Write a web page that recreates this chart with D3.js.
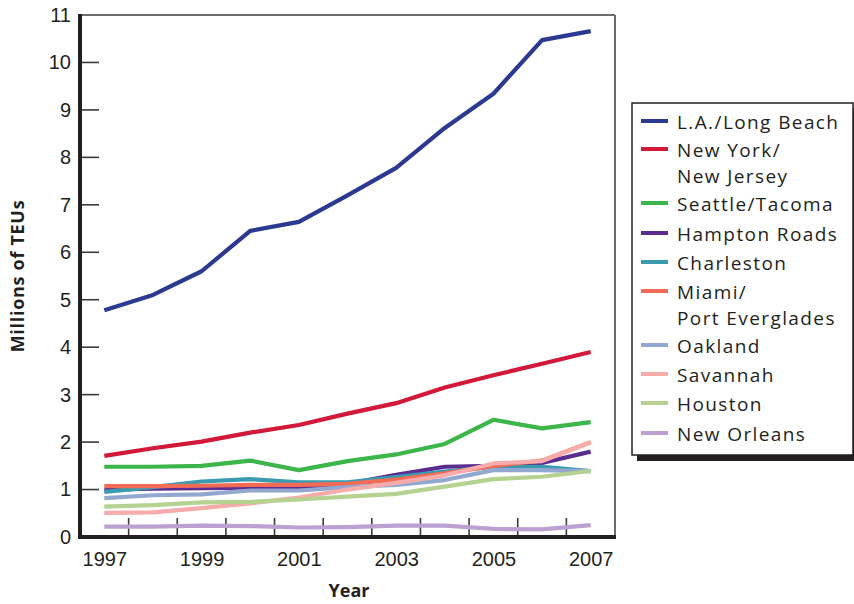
<!DOCTYPE html>
<html>
<head>
<meta charset="utf-8">
<script src="https://cdn.jsdelivr.net/npm/d3@7"></script>
<style>
  body { margin: 0; background: #fff; }
  svg { display: block; font-family: "Open Sans", "Noto Sans", sans-serif; }
</style>
</head>
<body>
<svg id="chart" width="854" height="604"></svg>
<script>
const years = [1997, 1998, 1999, 2000, 2001, 2002, 2003, 2004, 2005, 2006, 2007];
const xTickLabels = [1997, 1999, 2001, 2003, 2005, 2007];
const yTickValues = [0, 1, 2, 3, 4, 5, 6, 7, 8, 9, 10, 11];

const seriesNames = ["L.A./Long Beach", "New York/\nNew Jersey", "Seattle/Tacoma", "Hampton Roads",
  "Charleston", "Miami/\nPort Everglades", "Oakland", "Savannah", "Houston", "New Orleans"];
const seriesColors = ["#2b3990", "#d2193a", "#3cb54a", "#5b2d90", "#3a9bb0",
  "#f26b55", "#93a8d0", "#f7abab", "#b5d290", "#bca0d2"];

const laLongBeach   = [4.78, 5.10, 5.60, 6.45, 6.64, 7.20, 7.78, 8.62, 9.34, 10.47, 10.66];
const newYorkNJ     = [1.71, 1.87, 2.01, 2.20, 2.36, 2.60, 2.82, 3.15, 3.41, 3.65, 3.90];
const seattleTacoma = [1.48, 1.48, 1.50, 1.61, 1.41, 1.60, 1.74, 1.96, 2.47, 2.29, 2.42];
const hamptonRoads  = [1.00, 1.02, 1.03, 1.04, 1.05, 1.12, 1.31, 1.48, 1.50, 1.56, 1.80];
const charleston    = [0.95, 1.05, 1.17, 1.22, 1.15, 1.15, 1.26, 1.38, 1.48, 1.48, 1.39];
const miamiPE       = [1.07, 1.07, 1.08, 1.10, 1.10, 1.12, 1.21, 1.34, 1.50, 1.61, 2.00];
const oakland       = [0.82, 0.88, 0.90, 0.98, 0.98, 1.05, 1.10, 1.20, 1.41, 1.41, 1.39];
const savannah      = [0.51, 0.52, 0.61, 0.71, 0.83, 1.00, 1.14, 1.30, 1.55, 1.60, 1.99];
const houston       = [0.64, 0.67, 0.73, 0.74, 0.79, 0.85, 0.91, 1.06, 1.22, 1.27, 1.39];
const newOrleans    = [0.22, 0.22, 0.24, 0.23, 0.20, 0.21, 0.24, 0.24, 0.17, 0.16, 0.25];

const seriesValues = [laLongBeach, newYorkNJ, seattleTacoma, hamptonRoads, charleston,
  miamiPE, oakland, savannah, houston, newOrleans];

const svg = d3.select("#chart");
const pL = 80, pR = 615, pT = 15, pB = 537;

const x = d3.scaleLinear().domain([1996.5, 2007.5]).range([pL, pR]);
const y = d3.scaleLinear().domain([0, 11]).range([pB, pT]);

// frame top/right
svg.append("line").attr("x1", pL).attr("x2", pR).attr("y1", pT).attr("y2", pT)
  .attr("stroke", "#6d6d6d").attr("stroke-width", 2);
svg.append("line").attr("x1", pR).attr("x2", pR).attr("y1", pT).attr("y2", pB)
  .attr("stroke", "#6d6d6d").attr("stroke-width", 2);

// y axis labels
const yAxis = d3.axisLeft(y).tickValues(yTickValues).tickSize(0).tickPadding(9);
const gy = svg.append("g").attr("transform", `translate(${pL},0)`).call(yAxis);
gy.select(".domain").remove();
gy.selectAll("text").attr("font-size", 20).attr("fill", "#231f20");
svg.append("g").selectAll("line").data(yTickValues.filter(v => v > 0 && v < 11)).join("line")
  .attr("x1", pL).attr("x2", pL + 19)
  .attr("y1", d => y(d)).attr("y2", d => y(d))
  .attr("stroke", "#3a3a3a").attr("stroke-width", 1.6);

// x ticks at half years (inward)
const halfTicks = years.slice(0, -1).map(v => v + 0.5);
svg.append("g").selectAll("line").data(halfTicks).join("line")
  .attr("x1", d => x(d)).attr("x2", d => x(d))
  .attr("y1", pB).attr("y2", pB - 19)
  .attr("stroke", "#3a3a3a").attr("stroke-width", 1.6);

const xAxis = d3.axisBottom(x).tickValues(xTickLabels).tickFormat(d3.format("d")).tickSize(0).tickPadding(15);
const gx = svg.append("g").attr("transform", `translate(0,${pB})`).call(xAxis);
gx.select(".domain").remove();
gx.selectAll("text").attr("font-size", 20).attr("fill", "#231f20");

// lines
const line = d3.line().x((d, i) => x(years[i])).y(d => y(d));
const order = d3.range(seriesValues.length);
svg.append("g").selectAll("path").data(order).join("path")
  .attr("d", i => line(seriesValues[i]))
  .attr("fill", "none")
  .attr("stroke", i => seriesColors[i])
  .attr("stroke-width", 4.2)
  .attr("stroke-linejoin", "round");

// main axes lines
svg.append("line").attr("x1", pL).attr("x2", pL).attr("y1", pT - 1).attr("y2", pB + 2)
  .attr("stroke", "#231f20").attr("stroke-width", 4);
svg.append("line").attr("x1", pL - 2).attr("x2", pR + 1).attr("y1", pB).attr("y2", pB)
  .attr("stroke", "#231f20").attr("stroke-width", 4);

// axis titles
svg.append("text").attr("x", 349).attr("y", 597).attr("text-anchor", "middle")
  .attr("font-size", 18).attr("font-weight", "bold").attr("fill", "#231f20").text("Year");
svg.append("text").attr("transform", "translate(24,276) rotate(-90)").attr("text-anchor", "middle")
  .attr("font-size", 18).attr("font-weight", "bold").attr("letter-spacing", 0.7)
  .attr("fill", "#231f20").text("Millions of TEUs");

// legend
const lg = svg.append("g");
lg.append("rect").attr("x", 637).attr("y", 108).attr("width", 222).attr("height", 353).attr("fill", "#231f20");
lg.append("rect").attr("x", 632).attr("y", 103).attr("width", 221).attr("height", 352)
  .attr("fill", "#fff").attr("stroke", "#231f20").attr("stroke-width", 1.5);

const legendCenters = [122, 150, 204, 234, 263, 292, 346, 375, 404, 434];
seriesNames.forEach((name, i) => {
  const cy = legendCenters[i];
  lg.append("line").attr("x1", 641).attr("x2", 668).attr("y1", cy - 1).attr("y2", cy - 1)
    .attr("stroke", seriesColors[i]).attr("stroke-width", 4);
  name.split("\n").forEach((part, j) => {
    lg.append("text").attr("x", 677).attr("y", cy + 7 + j * 26)
      .attr("font-size", 19).attr("letter-spacing", 1.4).attr("fill", "#231f20").text(part);
  });
});
</script>
</body>
</html>
